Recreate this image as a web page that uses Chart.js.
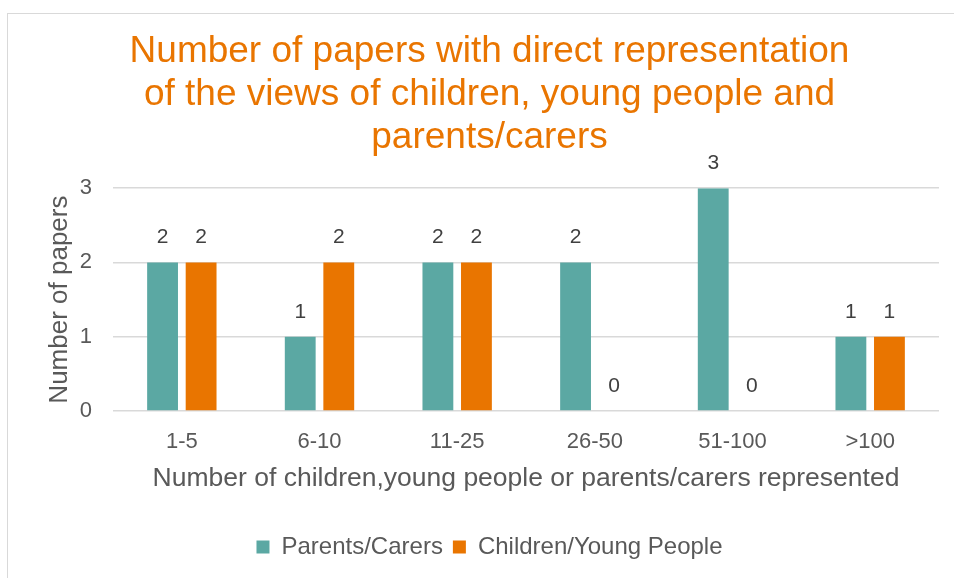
<!DOCTYPE html>
<html>
<head>
<meta charset="utf-8">
<script src="https://cdn.jsdelivr.net/npm/chart.js@4.4.1/dist/chart.umd.min.js"></script>
<style>
  html, body { margin: 0; padding: 0; background: #ffffff; }
  #wrap { position: relative; width: 954px; height: 578px; overflow: hidden; }
  #frame { position: absolute; left: 7px; top: 13px; width: 960px; height: 580px; border: 1px solid #d9d9d9; box-sizing: border-box; }
  canvas { position: absolute; left: 0; top: 0; }
</style>
</head>
<body>
<div id="wrap">
  <div id="frame"></div>
  <canvas id="c" width="954" height="578"></canvas>
</div>
<script>
const titleLines = ["Number of papers with direct representation", "of the views of children, young people and", "parents/carers"];
const categories = ["1-5", "6-10", "11-25", "26-50", "51-100", ">100"];
const parentsCarers = [2, 1, 2, 2, 3, 1];
const childrenYoungPeople = [2, 2, 2, 0, 0, 1];
const seriesNames = ["Parents/Carers", "Children/Young People"];
const yTicks = [0, 1, 2, 3];
const xAxisTitle = "Number of children,young people or parents/carers represented";
const yAxisTitle = "Number of papers";

const FONT = "'Liberation Sans', Arial, sans-serif";
const TEAL = "#5ba8a3";
const ORANGE = "#e97500";

const valueLabels = {
  id: "valueLabels",
  afterDatasetsDraw(chart) {
    const ctx = chart.ctx;
    ctx.save();
    ctx.font = "21px " + FONT;
    ctx.fillStyle = "#404040";
    ctx.textAlign = "center";
    ctx.textBaseline = "middle";
    chart.data.datasets.forEach((ds, i) => {
      const meta = chart.getDatasetMeta(i);
      meta.data.forEach((el, j) => {
        ctx.fillText(String(ds.data[j]), el.x, el.y - 25);
      });
    });
    ctx.restore();
  }
};

new Chart(document.getElementById("c"), {
  type: "bar",
  data: {
    labels: categories,
    datasets: [
      { label: seriesNames[0], data: parentsCarers, backgroundColor: TEAL, categoryPercentage: 0.56, barPercentage: 0.8 },
      { label: seriesNames[1], data: childrenYoungPeople, backgroundColor: ORANGE, categoryPercentage: 0.56, barPercentage: 0.8 }
    ]
  },
  options: {
    responsive: false,
    animation: false,
    layout: { padding: { top: 14, left: 40, right: 15, bottom: 9 } },
    plugins: {
      title: {
        display: true,
        text: titleLines,
        color: ORANGE,
        font: { family: FONT, size: 37, weight: "normal", lineHeight: 1.15 },
        padding: { top: 17, bottom: 29.5 }
      },
      legend: {
        position: "bottom",
        labels: {
          color: "#595959",
          font: { family: FONT, size: 24 },
          boxWidth: 13,
          boxHeight: 13,
          padding: 10
        }
      },
      tooltip: { enabled: false }
    },
    scales: {
      x: {
        afterFit(scale) { scale.height = 114; },
        grid: { display: false, drawTicks: false },
        border: { display: false },
        ticks: { color: "#595959", font: { family: FONT, size: 22 }, padding: 18 },
        title: { display: true, text: xAxisTitle, color: "#595959", font: { family: FONT, size: 26.5 }, padding: { top: 7, bottom: 30 } }
      },
      y: {
        min: 0,
        max: 3,
        afterBuildTicks(scale) { scale.ticks = yTicks.map(v => ({ value: v })); },
        afterFit(scale) { scale.width = 73; },
        grid: { color: "#d9d9d9", lineWidth: 1.5, drawTicks: false },
        border: { display: false },
        ticks: { color: "#595959", font: { family: FONT, size: 22 }, padding: 21 },
        title: { display: true, text: yAxisTitle, color: "#595959", font: { family: FONT, size: 26 }, padding: { top: 4, bottom: 4 } }
      }
    }
  },
  plugins: [valueLabels]
});
</script>
</body>
</html>
